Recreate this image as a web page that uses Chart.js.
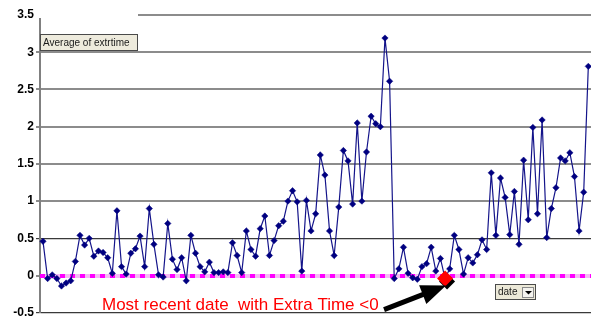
<!DOCTYPE html>
<html>
<head>
<meta charset="utf-8">
<script src="https://cdn.jsdelivr.net/npm/chart.js@4.4.1/dist/chart.umd.min.js"></script>
<style>
  html, body { margin: 0; padding: 0; background: #fff; }
  #wrap { position: relative; width: 591px; height: 322px; }
</style>
</head>
<body>
<div id="wrap"><canvas id="c" width="591" height="322"></canvas></div>
<script>
// Average extra time per date, in date order
const extraTime = [
  0.46, -0.04, 0.01, -0.04, -0.14, -0.10, -0.07, 0.19, 0.54, 0.41,
  0.50, 0.26, 0.33, 0.31, 0.24, 0.03, 0.87, 0.12, 0.02, 0.30,
  0.36, 0.53, 0.12, 0.90, 0.42, 0.01, -0.02, 0.70, 0.22, 0.08,
  0.24, -0.07, 0.54, 0.30, 0.12, 0.05, 0.18, 0.04, 0.04, 0.05,
  0.04, 0.44, 0.27, 0.04, 0.60, 0.35, 0.26, 0.63, 0.80, 0.27,
  0.47, 0.67, 0.73, 1.00, 1.14, 0.99, 0.06, 1.01, 0.60, 0.83,
  1.62, 1.35, 0.60, 0.27, 0.92, 1.68, 1.54, 0.96, 2.05, 1.00,
  1.66, 2.14, 2.04, 2.00, 3.19, 2.61, -0.04, 0.09, 0.38, 0.03,
  -0.03, -0.05, 0.12, 0.16, 0.38, 0.06, 0.23, -0.04, 0.09, 0.54,
  0.35, 0.02, 0.24, 0.17, 0.28, 0.48, 0.35, 1.38, 0.54, 1.31,
  1.05, 0.55, 1.13, 0.42, 1.55, 0.75, 1.99, 0.83, 2.09, 0.51,
  0.90, 1.18, 1.58, 1.54, 1.65, 1.33, 0.60, 1.12, 2.81
];

// Value axis tick labels
const yTickValues = [-0.5, 0, 0.5, 1, 1.5, 2, 2.5, 3, 3.5];

// Texts shown on the chart
const fieldLabel = 'Average of extrtime';
const axisField = 'date';
const noteText = 'Most recent date  with Extra Time <0';

// The latest date whose extra time went below zero
const latestNegative = extraTime.findLastIndex(v => v < 0);

const FONT = '"Liberation Sans", Arial, sans-serif';

function drawPanelBox(ctx, x, y, w, h, fill) {
  ctx.fillStyle = fill;
  ctx.fillRect(x, y, w, h);
  ctx.strokeStyle = '#4a4a4a';
  ctx.lineWidth = 1;
  ctx.strokeRect(x + 0.5, y + 0.5, w - 1, h - 1);
}

const decorations = {
  id: 'decorations',
  beforeDatasetsDraw(chart) {
    const { ctx, chartArea: a, scales: { y } } = chart;
    ctx.save();
    // the top gridline is left open above the field label
    ctx.fillStyle = '#fff';
    ctx.fillRect(a.left - 5, a.top - 3, 103, 6);

    // zero reference line
    const y0 = Math.round(y.getPixelForValue(0));
    ctx.lineWidth = 4;
    ctx.strokeStyle = '#f5b8f5';
    ctx.beginPath();
    ctx.moveTo(a.left, y0);
    ctx.lineTo(a.right, y0);
    ctx.stroke();
    ctx.setLineDash([5, 5]);
    ctx.strokeStyle = '#ff00ff';
    ctx.beginPath();
    ctx.moveTo(a.left, y0);
    ctx.lineTo(a.right, y0);
    ctx.stroke();
    ctx.restore();
  },
  beforeDatasetDraw(chart, args) {
    if (args.meta.label === 'latest') {
      const ctx = chart.ctx;
      ctx.save();
      ctx.shadowColor = '#000';
      ctx.shadowOffsetX = 2;
      ctx.shadowOffsetY = 3;
      ctx.shadowBlur = 0;
    }
  },
  afterDatasetDraw(chart, args) {
    if (args.meta.label === 'latest') chart.ctx.restore();
  },
  afterDatasetsDraw(chart) {
    const { ctx } = chart;
    const pt = chart.getDatasetMeta(1).data[0];
    ctx.save();

    // arrow pointing at the highlighted date
    const tipX = pt.x + 1, tipY = pt.y + 7;
    const tailX = tipX - 62, tailY = tipY + 24;
    const dx = tipX - tailX, dy = tipY - tailY;
    const len = Math.hypot(dx, dy);
    const ux = dx / len, uy = dy / len;
    const headLen = 25, headHalf = 10;
    const bx = tipX - ux * headLen, by = tipY - uy * headLen;
    ctx.strokeStyle = '#000';
    ctx.fillStyle = '#000';
    ctx.lineWidth = 5;
    ctx.beginPath();
    ctx.moveTo(tailX, tailY);
    ctx.lineTo(bx + ux * 4, by + uy * 4);
    ctx.stroke();
    ctx.beginPath();
    ctx.moveTo(tipX, tipY);
    ctx.lineTo(bx - uy * headHalf, by + ux * headHalf);
    ctx.lineTo(bx + uy * headHalf, by - ux * headHalf);
    ctx.closePath();
    ctx.fill();

    // note
    ctx.fillStyle = '#ff0000';
    ctx.font = '17px ' + FONT;
    ctx.textBaseline = 'alphabetic';
    ctx.textAlign = 'left';
    ctx.fillText(noteText, 102, 310);

    // data field label
    drawPanelBox(ctx, 40, 34, 98, 17, '#eeebdd');
    ctx.fillStyle = '#1a1a1a';
    ctx.font = '10px ' + FONT;
    ctx.textBaseline = 'middle';
    ctx.fillText(fieldLabel, 43, 43);

    // category field button
    drawPanelBox(ctx, 495, 284, 41, 16, '#ece9d8');
    ctx.fillStyle = '#1a1a1a';
    ctx.fillText(axisField, 498, 292.5);
    ctx.fillStyle = '#f4f3ee';
    ctx.fillRect(522, 287, 12, 11);
    ctx.strokeStyle = '#8a8a8a';
    ctx.strokeRect(522.5, 287.5, 11, 10);
    ctx.fillStyle = '#000';
    ctx.beginPath();
    ctx.moveTo(525, 291);
    ctx.lineTo(532, 291);
    ctx.lineTo(528.5, 294.5);
    ctx.closePath();
    ctx.fill();

    ctx.restore();
  }
};

new Chart(document.getElementById('c'), {
  type: 'line',
  data: {
    datasets: [
      {
        label: 'extrtime',
        data: extraTime.map((v, i) => ({ x: i, y: v })),
        borderColor: '#14148a',
        borderWidth: 1.2,
        pointStyle: 'rectRot',
        pointRadius: 3.2,
        pointBackgroundColor: '#000080',
        pointBorderColor: '#000080',
        pointBorderWidth: 0.5,
        tension: 0,
        clip: 6,
        order: 2
      },
      {
        label: 'latest',
        data: [{ x: latestNegative, y: extraTime[latestNegative] }],
        showLine: false,
        pointStyle: 'rectRot',
        pointRadius: 8,
        pointBackgroundColor: '#ff0000',
        pointBorderColor: '#ff0000',
        pointBorderWidth: 0,
        clip: 12,
        order: 1
      }
    ]
  },
  options: {
    responsive: false,
    animation: false,
    events: [],
    layout: { autoPadding: false, padding: { top: 15, bottom: 7, left: 0, right: 0 } },
    plugins: { legend: { display: false }, tooltip: { enabled: false } },
    scales: {
      x: {
        type: 'linear',
        display: false,
        min: -0.65,
        max: extraTime.length - 1 + 0.58
      },
      y: {
        min: yTickValues[0],
        max: yTickValues[yTickValues.length - 1],
        afterBuildTicks(scale) {
          scale.ticks = yTickValues.map(v => ({ value: v }));
        },
        afterFit(scale) {
          scale.width = 40;
        },
        ticks: {
          color: '#000',
          padding: 2,
          font: { family: FONT, size: 12, weight: 'bold' },
          callback: v => String(v)
        },
        grid: {
          tickLength: 4,
          color: c => (c.tick && (c.tick.value === 0.5 || c.tick.value === -0.5)) ? '#3a3a3a' : '#8c8c8c',
          lineWidth: c => (c.tick && (c.tick.value === 0.5 || c.tick.value === -0.5)) ? 1.2 : 2
        },
        border: { color: '#808080', width: 2 }
      }
    }
  },
  plugins: [decorations]
});
</script>
</body>
</html>
